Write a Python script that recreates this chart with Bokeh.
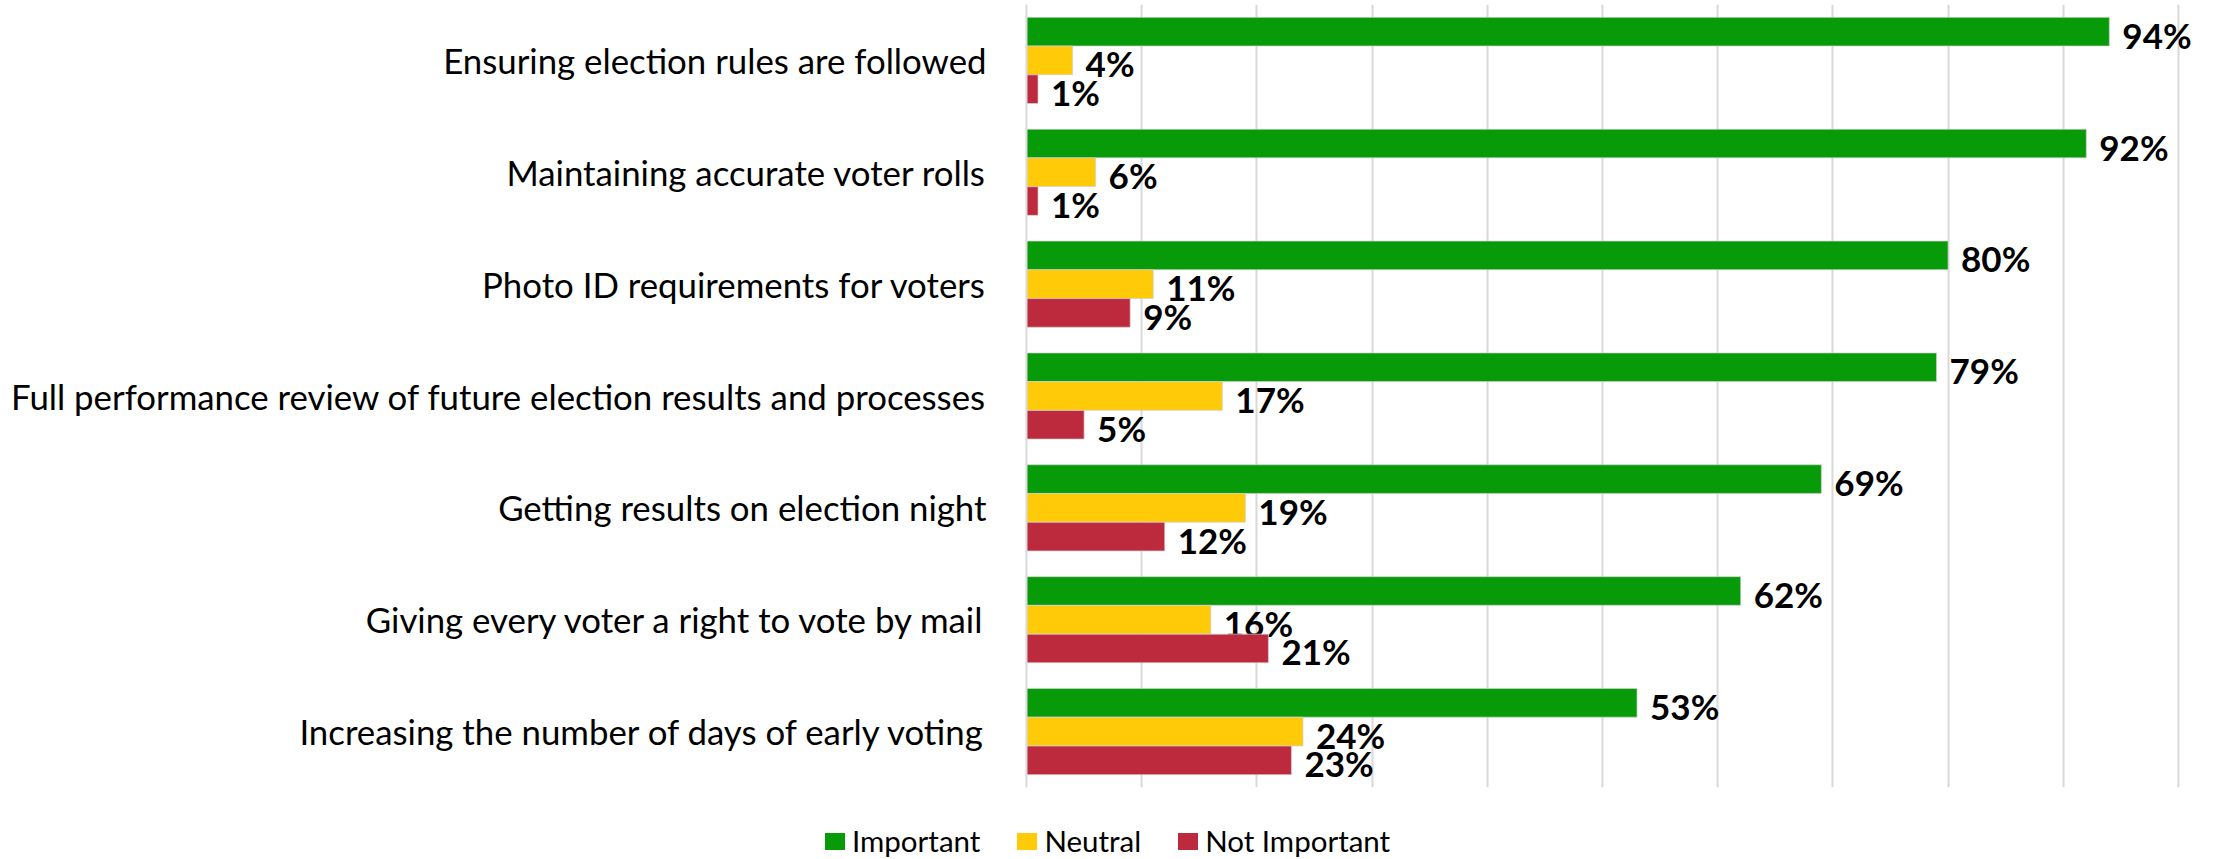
from bokeh.plotting import figure
from bokeh.layouts import column
from bokeh.models import ColumnDataSource, FactorRange, Range1d, SingleIntervalTicker, Div
from bokeh.transform import dodge
from bokeh.core.properties import value
from bokeh.embed import file_html
from bokeh.resources import INLINE

categories = [
    "Ensuring election rules are followed",
    "Maintaining accurate voter rolls",
    "Photo ID requirements for voters",
    "Full performance review of future election results and processes",
    "Getting results on election night",
    "Giving every voter a right to vote by mail",
    "Increasing the number of days of early voting",
]
important = [94, 92, 80, 79, 69, 62, 53]
neutral = [4, 6, 11, 17, 19, 16, 24]
not_important = [1, 1, 9, 5, 12, 21, 23]
series_names = ["Important", "Neutral", "Not Important"]
colors = ["#079A09", "#FFCA08", "#BE2A3D"]

src = ColumnDataSource(dict(
    cat=categories,
    imp=important, neu=neutral, notimp=not_important,
    imp_lbl=[f"{v}%" for v in important],
    neu_lbl=[f"{v}%" for v in neutral],
    notimp_lbl=[f"{v}%" for v in not_important],
))

W = 2221
MAIN_H = 815
LEG_H = 44
p = figure(width=W, height=MAIN_H, output_backend="svg", toolbar_location=None,
           y_range=FactorRange(factors=list(reversed(categories)), range_padding=0),
           x_range=Range1d(0, 102),
           min_border_left=1026, min_border_right=20, min_border_top=4, min_border_bottom=28)
p.outline_line_color = None
p.background_fill_color = "white"

bar_h = 0.256
offsets = [0.257, 0.0, -0.257]
fields = ["imp", "neu", "notimp"]
for f, off, col in zip(fields, offsets, colors):
    p.hbar(y=dodge("cat", off, range=p.y_range), right=f, left=0, height=bar_h,
           source=src, fill_color=col, line_color="#d0d0d0", line_alpha=0.7, line_width=1)
    p.text(x=f, y=dodge("cat", off, range=p.y_range), text=f + "_lbl", source=src,
           x_offset=13, y_offset=3, text_baseline="middle", text_align="left",
           text_font=value("Lato"), text_font_style="bold", text_font_size="35px",
           text_color="black")

p.xaxis.visible = False
p.xgrid.ticker = SingleIntervalTicker(interval=10)
p.xgrid.grid_line_color = "#d9d9d9"
p.xgrid.grid_line_width = 2
p.ygrid.grid_line_color = None

ya = p.yaxis[0]
ya.major_tick_line_color = None
ya.minor_tick_line_color = None
ya.axis_line_color = "#d9d9d9"
ya.axis_line_width = 2
ya.major_label_text_font = "Lato"
ya.major_label_text_font_size = "34.8px"
ya.major_label_text_color = "black"
ya.major_label_standoff = 34

# legend row (HTML) below the chart
items_html = "".join(
    f'<span style="display:inline-flex;align-items:center;margin-right:37px;">'
    f'<span style="display:inline-block;width:20px;height:17px;background:{c};'
    f'margin-right:7px;"></span>'
    f'<span style="font-family:Lato;font-size:29.5px;color:black;line-height:32px;">{n}</span></span>'
    for n, c in zip(series_names, colors)
)
legend_div = Div(
    text=f'<div style="display:flex;align-items:center;height:32px;margin-top:10px;'
         f'padding-left:825px;white-space:nowrap;">{items_html}</div>',
    width=W, height=LEG_H, margin=(0, 0, 0, 0),
)

layout = column(p, legend_div, spacing=0)
open("out.html", "w").write(file_html(layout, INLINE))
